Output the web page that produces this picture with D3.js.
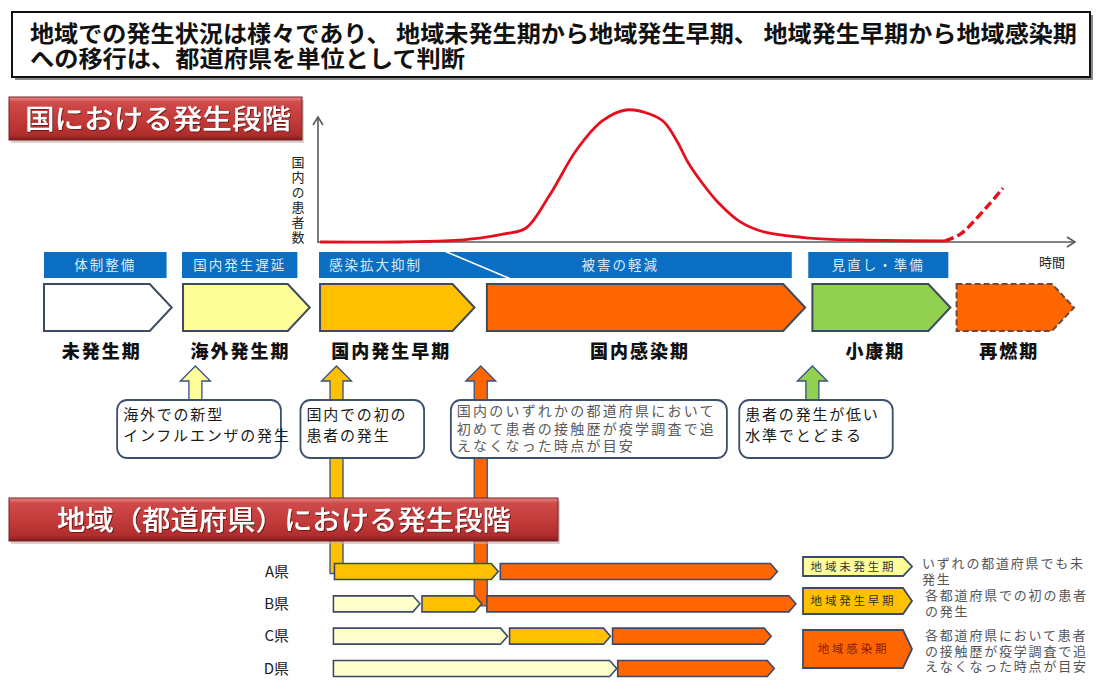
<!DOCTYPE html>
<html><head><meta charset="utf-8">
<script src="https://cdn.jsdelivr.net/npm/d3@7"></script>
<style>
body{margin:0;background:#fff;}
svg{display:block;font-family:"Noto Sans CJK JP","Noto Sans",sans-serif;}
</style></head><body>
<svg id="c" width="1102" height="698"></svg>
<script>
// ================= DATA =================
const titleLines = ["地域での発生状況は様々であり、 地域未発生期から地域発生早期、 地域発生早期から地域感染期",
                    "への移行は、都道府県を単位として判断"];
const nationalTitle = "国における発生段階";
const regionalTitle = "地域（都道府県）における発生段階";
const yAxisLabel = "国内の患者数";
const xAxisLabel = "時間";

// national phases (time units 0..100)
const phaseNames  = ["未発生期","海外発生期","国内発生早期","国内感染期","小康期","再燃期"];
const phaseStart  = [0, 13.5, 26.8, 43.0, 74.6, 88.6];
const phaseEnd    = [12.4, 25.8, 41.8, 73.9, 88.0, 100];
const phaseFill   = ["#ffffff","#ffff99","#ffc000","#ff6600","#92d050","#ff6600"];
const phaseDashed = [false,false,false,false,false,true];

// strategy bands
const strategyNames       = ["体制整備","国内発生遅延","感染拡大抑制","被害の軽減","見直し・準備"];
const strategyStartTop    = [0, 13.4, 26.7, 39.3, 74.2];
const strategyStartBottom = [0, 13.4, 26.7, 45.3, 74.2];
const strategyEndTop      = [11.9, 24.6, 38.9, 72.6, 87.8];
const strategyEndBottom   = [11.9, 24.6, 44.9, 72.6, 87.8];

// epidemic curve (time, relative patients 0..100)
const curveT = [26.8, 34.6, 38.9, 42.3, 44.7, 46.8, 49.1, 51.7, 54.2, 56.5, 58.8, 60.2, 61.5, 62.5, 63.9, 65.5, 67.6, 69.9, 74.3, 79.2, 87.5];
const curveV = [0, 0, 0.8, 3, 6.1, 10.6, 35.6, 69.7, 91.7, 100, 97, 90.9, 75.8, 60.6, 44.7, 29.5, 15.2, 7.6, 3, 1.5, 0.8];
const resurgeT = [87.5, 89.0, 90.4, 91.8, 93.1];
const resurgeV = [0.8, 6.1, 16.7, 28.8, 40.9];

// triggers
const triggerT     = [14.7, 28.4, 42.4, 74.6];
const triggerFill  = ["#ffff99","#ffc000","#ff6600","#92d050"];
const triggerLink  = [null, "A県", "B県", null];
const triggerBoxFrom = [7.1, 24.9, 39.5, 67.5];
const triggerBoxTo   = [23.0, 36.9, 66.3, 82.4];
const triggerText = [
  ["海外での新型","インフルエンザの発生"],
  ["国内での初の","患者の発生"],
  ["国内のいずれかの都道府県において","初めて患者の接触歴が疫学調査で追","えなくなった時点が目安"],
  ["患者の発生が低い","水準でとどまる"]
];

// regional
const regionNames = ["A県","B県","C県","D県"];
const stageNames  = ["地域未発生期","地域発生早期","地域感染期"];
const stageFill   = ["#ffffcc","#ffc000","#ff6600"];
const legendFill  = ["#ffff99","#ffc000","#ff6600"];
const stageDesc = [
  ["いずれの都道府県でも未","発生"],
  ["各都道府県での初の患者","の発生"],
  ["各都道府県において患者","の接触歴が疫学調査で追","えなくなった時点が目安"]
];
const segRegion = ["A県","A県","B県","B県","B県","C県","C県","C県","D県","D県"];
const segStage  = [1,2,0,1,2,0,1,2,0,2];
const segFrom   = [28.2,44.3,28.1,36.7,43.0,28.1,45.2,55.2,28.1,55.7];
const segTo     = [44.1,71.2,36.5,42.5,73.0,45.0,55.0,70.6,55.6,70.9];

// ================= DRAW =================
const svg = d3.select("#c");
const defs = svg.append("defs");
const x = d3.scaleLinear().domain([0,100]).range([44,1074]);
const yC = d3.scaleLinear().domain([0,100]).range([242,110]);
const yRow = d3.scalePoint().domain(regionNames).range([571.5,668.5]);

function pentagon(x0,x1,y0,y1,tip){
  const ym=(y0+y1)/2;
  return `M${x0},${y0}L${x1-tip},${y0}L${x1},${ym}L${x1-tip},${y1}L${x0},${y1}Z`;
}
function multiline(g, lines, x0, y0, lh){
  const t = g.append("text").attr("x",x0).attr("y",y0);
  lines.forEach((l,j)=>t.append("tspan").attr("x",x0).attr("dy",j===0?0:lh).text(l));
  return t;
}

// gradients
const rg = defs.append("linearGradient").attr("id","redg").attr("x1",0).attr("y1",0).attr("x2",0).attr("y2",1);
[["0%","#e58a8a"],["12%","#cf4a4a"],["55%","#c23a3a"],["88%","#b02d2d"],["100%","#7e1c1c"]]
  .forEach(s=>rg.append("stop").attr("offset",s[0]).attr("stop-color",s[1]));
const sh = defs.append("filter").attr("id","ts").attr("x","-5%").attr("y","-5%").attr("width","110%").attr("height","120%");
sh.append("feDropShadow").attr("dx",1).attr("dy",1).attr("stdDeviation",0.6).attr("flood-color","#5a0e0e").attr("flood-opacity",0.8);

// title box
svg.append("rect").attr("x",15).attr("y",15).attr("width",1078).attr("height",65).attr("fill","#8a8a8a");
svg.append("rect").attr("x",12).attr("y",12).attr("width",1078).attr("height",65).attr("fill","#fff").attr("stroke","#111").attr("stroke-width",2);
const titleW = [1047, 435];
const tt = svg.append("text").attr("font-size",23).attr("font-weight",700).attr("fill","#111");
titleLines.forEach((t,i)=>{
  tt.append("tspan").attr("x",30).attr("y",42+i*25).attr("textLength",titleW[i]).attr("lengthAdjust","spacingAndGlyphs").text(t);
});

// red labels
function redLabel(x0,y0,w,h,txt,tx,tw){
  svg.append("rect").attr("x",x0+2).attr("y",y0+3).attr("width",w).attr("height",h).attr("fill","#c9b0b0").attr("opacity",0.6);
  svg.append("rect").attr("x",x0).attr("y",y0).attr("width",w).attr("height",h).attr("fill","url(#redg)").attr("stroke","#7a1f1f").attr("stroke-width",1);
  svg.append("text").attr("x",tx).attr("y",y0+h/2+10).attr("font-size",27).attr("font-weight",500)
    .attr("fill","#fff").attr("filter","url(#ts)").attr("textLength",tw).attr("lengthAdjust","spacingAndGlyphs").text(txt);
}
redLabel(9,97,293,43,nationalTitle,25,266);

// axes
const ax = svg.append("g").attr("stroke","#5a5a5a").attr("stroke-width",1.6).attr("fill","none");
const ox = x(26.6), oy = yC(0);
ax.append("line").attr("x1",ox).attr("y1",oy+1).attr("x2",ox).attr("y2",117);
ax.append("path").attr("d",`M${ox-5},${125}L${ox},${117}L${ox+5},${125}`);
ax.append("line").attr("x1",ox).attr("y1",oy).attr("x2",x(100)+1).attr("y2",oy);
ax.append("path").attr("d",`M${x(100)-7},${oy-5}L${x(100)+1},${oy}L${x(100)-7},${oy+5}`);
svg.append("text").attr("x",298).attr("y",156).attr("writing-mode","vertical-rl")
  .style("text-orientation","upright").style("letter-spacing","2px")
  .attr("font-size",13).attr("fill","#222").text(yAxisLabel);
svg.append("text").attr("x",1052).attr("y",267).attr("text-anchor","middle").attr("font-size",13).attr("fill","#222").text(xAxisLabel);

// curve
const line = d3.line().x(d=>x(d[0])).y(d=>yC(d[1])).curve(d3.curveCatmullRom.alpha(0.5));
svg.append("path").attr("d",line(curveT.map((t,i)=>[t,curveV[i]]))).attr("fill","none").attr("stroke","#e5101d").attr("stroke-width",2.8);
svg.append("path").attr("d",line(resurgeT.map((t,i)=>[t,resurgeV[i]]))).attr("fill","none").attr("stroke","#e5101d").attr("stroke-width",3.4).attr("stroke-dasharray","9,4");

// strategy bands
const bandY0 = 252, bandY1 = 278;
strategyNames.forEach((n,i)=>{
  svg.append("path").attr("d",`M${x(strategyStartTop[i])},${bandY0}L${x(strategyEndTop[i])},${bandY0}L${x(strategyEndBottom[i])},${bandY1}L${x(strategyStartBottom[i])},${bandY1}Z`)
    .attr("fill","#0a6ec2");
  const slanted = strategyEndBottom[i]!==strategyEndTop[i];
  const cx = slanted ? x(strategyStartTop[i])+10 : (x(strategyStartTop[i])+x(strategyEndTop[i]))/2;
  svg.append("text").attr("x",cx).attr("y",270).attr("text-anchor",slanted?"start":"middle")
    .attr("font-size",13.5).attr("fill","#dce8f6").style("letter-spacing","2px").text(n);
});

// phases
const phY0 = 284, phY1 = 331;
phaseNames.forEach((n,i)=>{
  svg.append("path").attr("d",pentagon(x(phaseStart[i]),x(phaseEnd[i]),phY0,phY1,22))
    .attr("fill",phaseFill[i]).attr("stroke",phaseDashed[i]?"#6b4a3e":"#3d4b5e").attr("stroke-width",2)
    .attr("stroke-dasharray",phaseDashed[i]?"6,3":null);
  svg.append("text").attr("x",(x(phaseStart[i])+x(phaseEnd[i]))/2-6).attr("y",358).attr("text-anchor","middle")
    .attr("font-size",18).attr("font-weight",900).attr("fill","#111").style("letter-spacing","2px").text(n);
});

// trigger arrows
const tipY = 366, headY = 381, hw = 15, sw = 6.5, boxY0 = 400, boxY1 = 458;
triggerT.forEach((t,i)=>{
  const cx = x(t);
  const bottom = triggerLink[i] ? yRow(triggerLink[i]) + 2 : boxY0 + 2;
  svg.append("path").attr("d",`M${cx},${tipY}L${cx+hw},${headY}L${cx+sw},${headY}L${cx+sw},${bottom}L${cx-sw},${bottom}L${cx-sw},${headY}L${cx-hw},${headY}Z`)
    .attr("fill",triggerFill[i]).attr("stroke","#34508a").attr("stroke-width",1.3);
});
// trigger boxes
triggerText.forEach((lines,i)=>{
  const bx0 = x(triggerBoxFrom[i]), bx1 = x(triggerBoxTo[i]);
  svg.append("rect").attr("x",bx0).attr("y",boxY0).attr("width",bx1-bx0).attr("height",boxY1-boxY0)
    .attr("rx",10).attr("fill","#fff").attr("stroke","#3f4f6e").attr("stroke-width",1.8);
  const small = lines.length>2;
  multiline(svg, lines, bx0+6, small?416:420, small?17.5:20.5)
    .attr("font-size",small?14:15).attr("fill",small?"#5a5a5a":"#1a1a1a")
    .style("letter-spacing",small?"2.2px":"1.8px");
});

// regional label
redLabel(9,498,549,43,regionalTitle,57,454);

// region rows
const rowH = 16;
regionNames.forEach(r=>{
  svg.append("text").attr("x",289).attr("y",yRow(r)+5).attr("text-anchor","end").attr("font-size",15).attr("fill","#222").text(r);
});
segRegion.forEach((r,i)=>{
  const yc = yRow(r);
  svg.append("path").attr("d",pentagon(x(segFrom[i]),x(segTo[i]),yc-rowH/2,yc+rowH/2,7))
    .attr("fill",stageFill[segStage[i]]).attr("stroke","#3b4a6b").attr("stroke-width",1.6);
});

// legend
const legX0 = 803, legX1 = 912;
const legY = [[557,576],[588,614],[630,668]];
const legTextColor = ["#333","#333","#8a1a00"];
const descY = [568, 600, 640];
stageNames.forEach((n,i)=>{
  svg.append("path").attr("d",pentagon(legX0,legX1,legY[i][0],legY[i][1],9))
    .attr("fill",legendFill[i]).attr("stroke","#3b4a6b").attr("stroke-width",1.8);
  svg.append("text").attr("x",(legX0+legX1)/2-4).attr("y",(legY[i][0]+legY[i][1])/2+4).attr("text-anchor","middle")
    .attr("font-size",11.5).attr("fill",legTextColor[i]).style("letter-spacing","2.8px").text(n);
  multiline(svg, stageDesc[i], i>0?925:922, descY[i], 15.5)
    .attr("font-size",13).attr("fill","#555").style("letter-spacing","1.8px");
});
</script>
</body></html>
